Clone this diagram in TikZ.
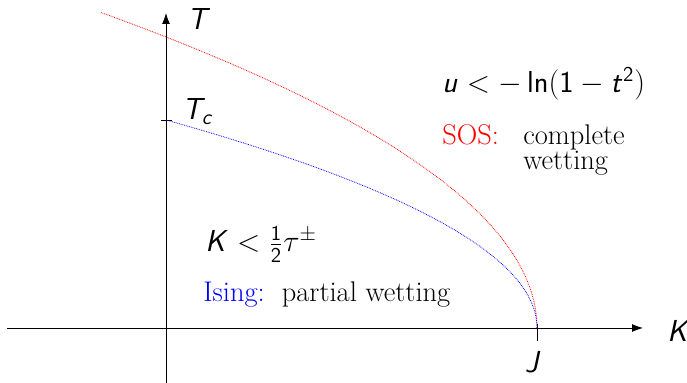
\documentclass[tikz,border=0pt]{standalone}
\usepackage{amsmath,amssymb}
\usepackage{xcolor}
\usepackage{tikz}
\usetikzlibrary{positioning, arrows.meta}
\DeclareMathAlphabet{\mathsfit}{OT1}{cmss}{m}{sl}
\DeclareMathAlphabet{\mathsfup}{OT1}{cmss}{m}{n}

\begin{document}
\begin{tikzpicture}[font=\fontsize{16.2}{15}\selectfont,
    axis/.style={line width=0.5pt, -{Latex[length=2.2mm, width=1.6mm]}},
    curve/.style={line width=0.45pt, dash pattern=on 0.45pt off 0.55pt},
    lbl/.style={inner sep=0pt},
    mlbl/.style={inner sep=0pt, font=\LARGE}]
  \useasboundingbox (-3.32,-1.10) rectangle (10.42,6.56);
  % axes
  \coordinate (O) at (0,0);
  \coordinate (xs) at (-3.18,0);
  \coordinate (xe) at (9.54,0);
  \coordinate (ys) at (0,-1.10);
  \coordinate (ye) at (0,6.30);
  \draw[axis] (xs) -- (xe);
  \draw[axis] (ys) -- (ye);
  \node[mlbl, anchor=base west] (Tlab) at (0.42,5.96) {$\mathsfit{T}$};
  \node[mlbl, anchor=base west] (Klab) at (10.02,-0.28) {$\mathsfit{K}$};
  % ticks
  \coordinate (J) at (7.42,0);
  \coordinate (Tc) at (0,4.16);
  \draw[line width=0.5pt] ([yshift=0.08cm]J) -- ([yshift=-0.26cm]J);
  \draw[line width=0.5pt] ([xshift=-0.1cm]Tc) -- ([xshift=0.12cm]Tc);
  \node[mlbl, anchor=base] (Jlab) at (7.34,-0.9) {$\mathsfit{J}$};
  \node[mlbl, anchor=base west] (Tclab) at (0.32,4.16) {$\mathsfit{T}_{\mathsfit{c}}$};
  % phase boundaries
  \draw[curve, red] plot[domain=0:1.085, samples=120, smooth]
    ({7.42*(1-\x*\x)}, {5.82*\x});
  \draw[curve, blue] plot[domain=0:1, samples=120, smooth]
    ({7.42*(1-\x*\x)}, {4.16*\x});
  % regions
  \node[mlbl, anchor=base west] (sosrule) at (5.52,4.70)
    {$\mathsfit{u} < -\mathop{\mathsfup{ln}}\nolimits(\mathsfup{1} - \mathsfit{t}^{\mathsfup{2}})$};
  \node[lbl, anchor=base west] (sos) at (5.52,3.66)
    {\textcolor{red}{SOS:}\hspace{0.85em}\begin{tabular}[t]{@{}l@{}}complete\\[-0.8pt]wetting\end{tabular}};
  \node[mlbl, anchor=base west] (isingrule) at (0.78,1.52)
    {$\mathsfit{K} < \tfrac{\mathsfup{1}}{\mathsfup{2}}\tau^{\pm}$};
  \node[lbl, anchor=base west] (ising) at (0.74,0.52)
    {\textcolor{blue}{Ising:}\hspace{0.6em}partial wetting};
\end{tikzpicture}
\end{document}
